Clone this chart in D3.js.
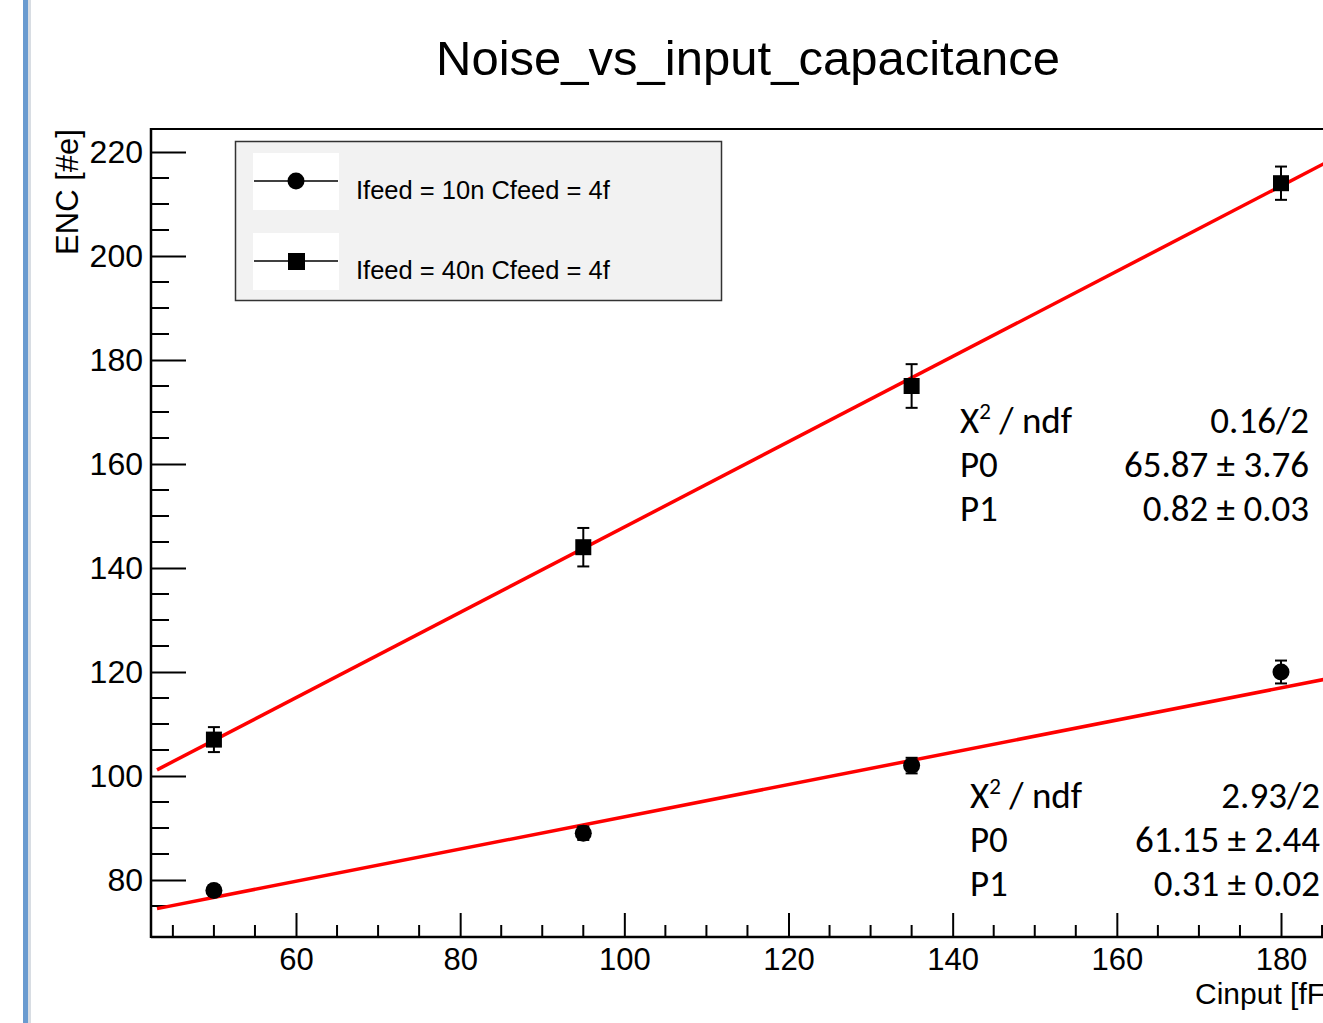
<!DOCTYPE html>
<html>
<head>
<meta charset="utf-8">
<script src="https://cdn.jsdelivr.net/npm/d3@7"></script>
<style>
  body { margin: 0; background: #fff; overflow: hidden; }
  svg { display: block; }
</style>
</head>
<body>
<svg id="chart" width="1323" height="1023"></svg>
<script>
// data
const cinput = [50, 95, 135, 180];
const enc10n = [78, 89, 102, 120];
const err10n = [1.0, 1.3, 1.5, 2.2];
const enc40n = [107, 144, 175, 214];
const err40n = [2.4, 3.7, 4.2, 3.2];
const fitP0 = [61.15, 65.87];
const fitP1 = [0.31, 0.82];
const seriesNames = ["Ifeed = 10n Cfeed = 4f", "Ifeed = 40n Cfeed = 4f"];
const statRows = [
  [["X", "2.93/2"], ["P0", "61.15 \u00b1 2.44"], ["P1", "0.31 \u00b1 0.02"]],
  [["X", "0.16/2"], ["P0", "65.87 \u00b1 3.76"], ["P1", "0.82 \u00b1 0.03"]]
];
const xTicks = [60, 80, 100, 120, 140, 160, 180];
const yTicks = [80, 100, 120, 140, 160, 180, 200, 220];

const svg = d3.select("#chart");
const fLeft = 151, fTop = 129, fBottom = 937, fRight = 1400;

const x = d3.scaleLinear().domain([60, 180]).range([296, 1281]);
const y = d3.scaleLinear().domain([80, 220]).range([880, 152]);
const xMax = x.invert(fRight);

// blue side bar
svg.append("rect").attr("x", 27).attr("y", 0).attr("width", 4).attr("height", 1023)
  .attr("fill", "#d8dde3");
svg.append("rect").attr("x", 23).attr("y", 0).attr("width", 5).attr("height", 1023)
  .attr("fill", "#6a9bd0");

// title
svg.append("text").attr("x", 748).attr("y", 75).attr("text-anchor", "middle")
  .style("font-family", "Liberation Sans, Arial, sans-serif").style("font-size", "49px")
  .text("Noise_vs_input_capacitance");

// frame
svg.append("line").attr("x1", fLeft).attr("x2", fRight).attr("y1", fTop).attr("y2", fTop)
  .attr("stroke", "#000").attr("stroke-width", 2);

const font = "Liberation Sans, Arial, sans-serif";

// y axis
const yAxis = d3.axisLeft(y).tickValues(yTicks).tickSize(-35).tickPadding(8)
  .tickFormat(d3.format("d"));
const gy = svg.append("g").attr("transform", `translate(${fLeft},0)`).call(yAxis);
gy.select(".domain").remove();
gy.selectAll(".tick line").attr("stroke-width", 2);
gy.selectAll(".tick text").attr("x", -8).style("font-family", font).style("font-size", "32px")
  .attr("fill", "#000");
const yMinor = d3.range(75, 225, 5).filter(v => yTicks.indexOf(v) < 0 && y(v) > fTop && y(v) < fBottom);
svg.append("g").selectAll("line").data(yMinor).join("line")
  .attr("x1", fLeft).attr("x2", fLeft + 18).attr("y1", d => y(d)).attr("y2", d => y(d))
  .attr("stroke", "#000").attr("stroke-width", 2);
svg.append("line").attr("x1", fLeft).attr("x2", fLeft).attr("y1", fTop - 1).attr("y2", fBottom + 1)
  .attr("stroke", "#000").attr("stroke-width", 2.5);

// x axis
const xAxis = d3.axisBottom(x).tickValues(xTicks).tickSize(-24).tickPadding(10)
  .tickFormat(d3.format("d"));
const gx = svg.append("g").attr("transform", `translate(0,${fBottom})`).call(xAxis);
gx.select(".domain").remove();
gx.selectAll(".tick line").attr("stroke-width", 2);
gx.selectAll(".tick text").attr("y", 11).attr("dy", "0.71em").style("font-family", font)
  .style("font-size", "31px").attr("fill", "#000");
const xMinor = d3.range(45, 200, 5).filter(v => xTicks.indexOf(v) < 0 && x(v) > fLeft);
svg.append("g").selectAll("line").data(xMinor).join("line")
  .attr("x1", d => x(d)).attr("x2", d => x(d)).attr("y1", fBottom).attr("y2", fBottom - 12)
  .attr("stroke", "#000").attr("stroke-width", 2);
svg.append("line").attr("x1", fLeft).attr("x2", fRight).attr("y1", fBottom).attr("y2", fBottom)
  .attr("stroke", "#000").attr("stroke-width", 2.5);

// axis titles
svg.append("text").attr("transform", "translate(78,192) rotate(-90)").attr("text-anchor", "middle")
  .style("font-family", font).style("font-size", "31px").text("ENC [#e]");
svg.append("text").attr("x", 1195).attr("y", 1004)
  .style("font-family", font).style("font-size", "30px").text("Cinput [fF]");

// fit lines
fitP0.forEach((p0, i) => {
  const xs = [x.invert(fLeft + 6), xMax];
  svg.append("path")
    .attr("d", d3.line().x(d => x(d)).y(d => y(p0 + fitP1[i] * d))(xs))
    .attr("stroke", "#ff0000").attr("stroke-width", 3.5).attr("fill", "none");
});

// points with error bars
function drawSeries(vals, errs, shape) {
  const g = svg.append("g");
  const pts = cinput.map((c, i) => ({ c, v: vals[i], e: errs[i] }));
  g.selectAll("line.err").data(pts).join("line").attr("class", "err")
    .attr("x1", d => x(d.c)).attr("x2", d => x(d.c))
    .attr("y1", d => y(d.v + d.e)).attr("y2", d => y(d.v - d.e))
    .attr("stroke", "#000").attr("stroke-width", 2);
  [1, -1].forEach(s => {
    g.selectAll(null).data(pts).join("line")
      .attr("x1", d => x(d.c) - 6).attr("x2", d => x(d.c) + 6)
      .attr("y1", d => y(d.v + s * d.e)).attr("y2", d => y(d.v + s * d.e))
      .attr("stroke", "#000").attr("stroke-width", 2);
  });
  if (shape === "circle") {
    g.selectAll("circle").data(pts).join("circle")
      .attr("cx", d => x(d.c)).attr("cy", d => y(d.v)).attr("r", 8.5).attr("fill", "#000");
  } else {
    g.selectAll("rect").data(pts).join("rect")
      .attr("x", d => x(d.c) - 8).attr("y", d => y(d.v) - 8)
      .attr("width", 16).attr("height", 16).attr("fill", "#000");
  }
}
drawSeries(enc10n, err10n, "circle");
drawSeries(enc40n, err40n, "square");

// legend
const leg = svg.append("g");
leg.append("rect").attr("x", 235.5).attr("y", 141.5).attr("width", 486).attr("height", 159)
  .attr("fill", "#f2f2f2").attr("stroke", "#333").attr("stroke-width", 1.5);
seriesNames.forEach((name, i) => {
  const yy = 153 + i * 80;
  leg.append("rect").attr("x", 253).attr("y", yy).attr("width", 86).attr("height", 57).attr("fill", "#fff");
  leg.append("line").attr("x1", 254).attr("x2", 338).attr("y1", yy + 28).attr("y2", yy + 28)
    .attr("stroke", "#000").attr("stroke-width", 1.5);
  if (i === 0) {
    leg.append("circle").attr("cx", 296).attr("cy", yy + 28).attr("r", 8.5).attr("fill", "#000");
  } else {
    leg.append("rect").attr("x", 288).attr("y", yy + 20).attr("width", 17).attr("height", 17).attr("fill", "#000");
  }
  leg.append("text").attr("x", 356).attr("y", yy + 46)
    .style("font-family", font).style("font-size", "25.5px").text(name);
});

// fit stats
const statPos = [{ x0: 970, x1: 1320, y0: 808 }, { x0: 960, x1: 1309, y0: 433 }];
const sfont = "Carlito, Lato, 'Open Sans', sans-serif";
statRows.forEach((rows, i) => {
  const p = statPos[i];
  rows.forEach((r, j) => {
    const t = svg.append("text").attr("x", p.x0).attr("y", p.y0 + j * 44)
      .style("font-family", sfont).style("font-size", "37px");
    if (j === 0) {
      t.append("tspan").text("X");
      t.append("tspan").attr("dy", -14).style("font-size", "23px").text("2");
      t.append("tspan").attr("dy", 14).text(" / ndf");
    } else {
      t.text(r[0]);
    }
    svg.append("text").attr("x", p.x1).attr("y", p.y0 + j * 44).attr("text-anchor", "end")
      .style("font-family", sfont).style("font-size", "37px").text(r[1]);
  });
});
</script>
</body>
</html>
